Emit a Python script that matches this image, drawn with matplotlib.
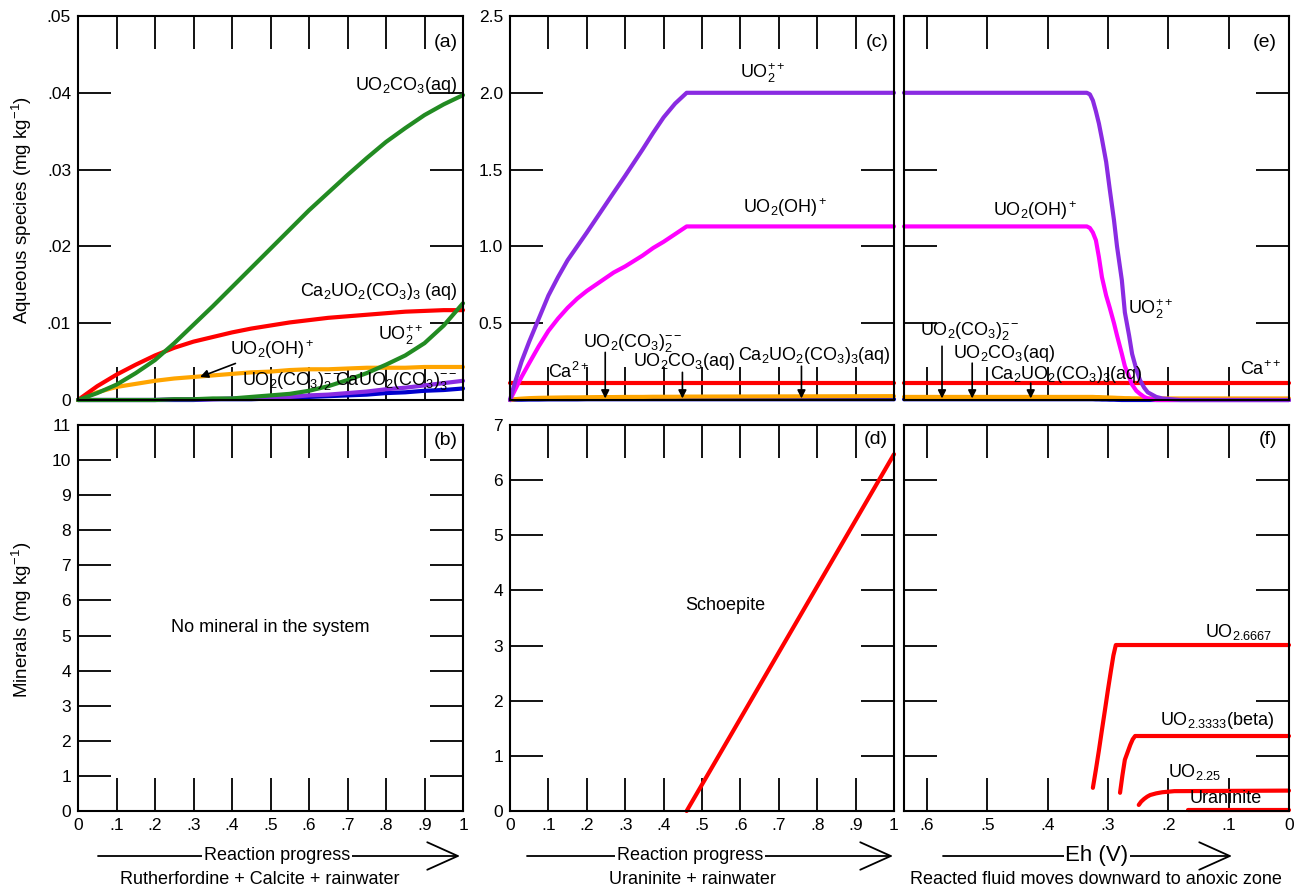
import numpy as np
import matplotlib
matplotlib.use("Agg")
import matplotlib.pyplot as plt

plt.rcParams['font.family'] = ['Liberation Sans', 'DejaVu Sans']
plt.rcParams['mathtext.fontset'] = 'custom'
plt.rcParams['mathtext.rm'] = 'Liberation Sans'
plt.rcParams['mathtext.it'] = 'Liberation Sans:italic'
plt.rcParams['mathtext.bf'] = 'Liberation Sans:bold'

W, H = 1301, 891

# colores
GREEN = '#228b22'
RED = '#ff0000'
ORANGE = '#ffa500'
PURPLE = '#8a2be2'
MAGENTA = '#ff00ff'
BLUE = '#0000cd'

# ---- (a) Rutherfordine + Calcite + rainwater ----
a_x = [0, .05, .1, .15, .2, .25, .3, .35, .4, .45, .5, .55, .6, .65, .7, .75, .8, .85, .9, .95, 1.0]
a_uo2co3 = [0, .0009, .0020, .0035, .0052, .0074, .0098, .0122, .0147, .0172, .0197,
            .0222, .0247, .0270, .0293, .0315, .0336, .0354, .0371, .0385, .0397]
a_ca2uo2co3 = [0, .0018, .0033, .0046, .0058, .0068, .0076, .0082, .0088, .0093, .0097,
               .0101, .0104, .0107, .0109, .0111, .0113, .0115, .0116, .0117, .0117]
a_uo2pp = [0, 0, 0, 0, 0, .0001, .0001, .0002, .0002, .0004, .0006,
           .0008, .0012, .0018, .0026, .0035, .0046, .0058, .0074, .0097, .0126]
a_uo2oh = [0, .0010, .0017, .0021, .0025, .0028, .0030, .0032, .0034, .0036, .0037,
           .0039, .0040, .0040, .0041, .0042, .0042, .0042, .0043, .0043, .0043]
a_uo2co32 = [0, 0, 0, 0, 0, .0001, .0001, .0001, .0002, .0002, .0003,
             .0004, .0006, .0007, .0009, .0011, .0014, .0016, .0019, .0022, .0025]
a_cauo2co33 = [0, 0, 0, 0, 0, 0, 0, .0001, .0001, .0001, .0002,
               .0003, .0004, .0005, .0006, .0007, .0009, .0010, .0012, .0013, .0015]

# ---- (c) Uraninite + rainwater ----
c_x = [0, .01, .02, .03, .05, .075, .1, .125, .15, .175, .2, .235, .27, .3, .345, .373, .4, .43, .46, 1.0]
c_uo2pp = [0, .09, .17, .25, .38, .53, .68, .80, .91, 1.0, 1.09, 1.22, 1.35, 1.46, 1.63, 1.74, 1.84, 1.93, 2.0, 2.0]
c_uo2oh = [0, .05, .10, .15, .24, .35, .45, .53, .60, .66, .71, .77, .83, .87, .94, .99, 1.03, 1.08, 1.13, 1.13]
c_ca = [.11] * 20
c_orange = [0, .004, .007, .009, .012, .014, .015, .016, .017, .017, .018, .019, .019, .02, .02,
            .021, .021, .021, .022, .025]
c_blue = [0, .001, .002, .002, .003, .003, .004, .004, .004, .004, .005, .005, .005, .005, .005,
          .005, .005, .005, .005, .005]

# ---- (e) Eh ----
e_x = [.638, .335, .33, .325, .32, .315, .31, .303, .297, .29, .285, .277, .272, .265,
       .26, .253, .247, .24, .234, .22, .21, .18, 0]
e_uo2pp = [2.0, 2.0, 1.99, 1.95, 1.88, 1.80, 1.70, 1.55, 1.37, 1.17, 1.0, .78, .57, .42,
           .30, .20, .13, .08, .05, .02, .01, 0, 0]
e_uo2oh = [1.13, 1.13, 1.12, 1.09, 1.04, .93, .80, .68, .60, .50, .42, .30, .22, .15,
           .10, .06, .04, .02, .01, 0, 0, 0, 0]
e_ca = [.11] * 23
e_orange = [.02, .02, .02, .02, .019, .019, .018, .017, .016, .015, .014, .013, .012, .012,
            .011, .011, .01, .01, .01, .01, .01, .01, .01]
e_blue = [.005, .005, .005, .005, .004, .004, .003, .003, .002, .002, .001, 0, 0, 0,
          0, 0, 0, 0, 0, 0, 0, 0, 0]

# ---- (d) Schoepite ----
d_x = [.46, 1.0]
d_schoepite = [0, 6.47]

# ---- (f) minerales vs Eh ----
f_uo26667_x = [.325, .32, .315, .31, .305, .3, .295, .291, .287, 0]
f_uo26667 = [.42, .75, 1.1, 1.47, 1.83, 2.2, 2.55, 2.82, 3.01, 3.01]
f_uo23333_x = [.28, .276, .272, .267, .263, .259, .255, 0]
f_uo23333 = [.33, .65, .93, 1.08, 1.2, 1.3, 1.36, 1.36]
f_uo225_x = [.249, .245, .24, .235, .23, .22, .21, .19, 0]
f_uo225 = [.11, .17, .22, .26, .29, .32, .34, .36, .37]
f_uraninite_x = [.167, 0]
f_uraninite = [0.01, 0.01]

prog_ticks = [0, .1, .2, .3, .4, .5, .6, .7, .8, .9, 1]
prog_labels = ['0', '.1', '.2', '.3', '.4', '.5', '.6', '.7', '.8', '.9', '1']
eh_ticks = [.6, .5, .4, .3, .2, .1, 0]
eh_labels = ['.6', '.5', '.4', '.3', '.2', '.1', '0']

fig = plt.figure(figsize=(W / 100, H / 100), dpi=100)


def px_axes(x0, x1, y0, y1):
    return fig.add_axes([x0 / W, 1 - y1 / H, (x1 - x0) / W, (y1 - y0) / H])


ax_a = px_axes(78, 463, 16, 400)
ax_c = px_axes(510, 894, 16, 400)
ax_e = px_axes(904, 1289, 16, 400)
ax_b = px_axes(78, 463, 425, 811)
ax_d = px_axes(510, 894, 425, 811)
ax_f = px_axes(904, 1289, 425, 811)

for ax in [ax_a, ax_c, ax_e, ax_b, ax_d, ax_f]:
    ax.tick_params(direction='in', length=24, width=1.3, top=True, right=True,
                   labelsize=12.5, pad=5, colors='black')
    for s in ax.spines.values():
        s.set_linewidth(1.5)

LW = 3.0
kw = dict(lw=LW, solid_capstyle='round', solid_joinstyle='round', clip_on=False)
fs = 13
pfs = 14

# (a)
ax_a.plot(a_x, a_cauo2co33, color=BLUE, **kw)
ax_a.plot(a_x, a_uo2co32, color=PURPLE, **kw)
ax_a.plot(a_x, a_uo2oh, color=ORANGE, **kw)
ax_a.plot(a_x, a_ca2uo2co3, color=RED, **kw)
ax_a.plot(a_x, a_uo2pp, color=GREEN, **kw)
ax_a.plot(a_x, a_uo2co3, color=GREEN, **kw)
ax_a.set_xlim(0, 1)
ax_a.set_ylim(0, 0.05)
ax_a.set_xticks(prog_ticks)
ax_a.tick_params(labelbottom=False)
ax_a.set_yticks([0, .01, .02, .03, .04, .05])
ax_a.set_yticklabels(['0', '.01', '.02', '.03', '.04', '.05'])
ax_a.text(0.987, 0.0466, '(a)', ha='right', va='center', fontsize=pfs)
ax_a.text(0.985, 0.0410, r'UO$_2$CO$_3$(aq)', ha='right', va='center', fontsize=fs)
ax_a.text(0.985, 0.0141, r'Ca$_2$UO$_2$(CO$_3$)$_3$ (aq)', ha='right', va='center', fontsize=fs)
ax_a.text(0.78, 0.0085, r'UO$_2^{++}$', ha='left', va='center', fontsize=fs)
ax_a.annotate(r'UO$_2$(OH)$^+$', xy=(0.317, 0.0030), xytext=(0.395, 0.0066),
              ha='left', va='center', fontsize=fs,
              arrowprops=dict(arrowstyle='-|>', color='black', lw=1.2,
                              shrinkA=0, shrinkB=0, mutation_scale=12))
ax_a.text(0.426, 0.0025, r'UO$_2$(CO$_3$)$_2^{--}$', ha='left', va='center', fontsize=fs)
ax_a.text(0.667, 0.0025, r'CaUO$_2$(CO$_3$)$_3^{--}$', ha='left', va='center', fontsize=fs)

# (c)
ax_c.plot(c_x, c_blue, color=BLUE, **kw)
ax_c.plot(c_x, c_ca, color=RED, **kw)
ax_c.plot(c_x, c_orange, color=ORANGE, **kw)
ax_c.plot(c_x, c_uo2oh, color=MAGENTA, **kw)
ax_c.plot(c_x, c_uo2pp, color=PURPLE, **kw)
ax_c.set_xlim(0, 1)
ax_c.set_ylim(0, 2.5)
ax_c.set_xticks(prog_ticks)
ax_c.tick_params(labelbottom=False)
ax_c.set_yticks([0, .5, 1, 1.5, 2, 2.5])
ax_c.set_yticklabels(['', '0.5', '1.0', '1.5', '2.0', '2.5'])
ax_c.text(0.985, 2.33, '(c)', ha='right', va='center', fontsize=pfs)
ax_c.text(0.657, 2.13, r'UO$_2^{++}$', ha='center', va='center', fontsize=fs)
ax_c.text(0.717, 1.25, r'UO$_2$(OH)$^+$', ha='center', va='center', fontsize=fs)
ax_c.text(0.10, 0.18, r'Ca$^{2+}$', ha='left', va='center', fontsize=fs)

arr = dict(arrowstyle='-|>', color='black', lw=1.2, shrinkA=0, shrinkB=0, mutation_scale=12)


def down_label(ax, tx, ty, label, ax_x, y_from, y_to=0.01):
    ax.text(tx, ty, label, ha='left', va='center', fontsize=fs)
    ax.annotate('', xy=(ax_x, y_to), xytext=(ax_x, y_from), arrowprops=arr)


down_label(ax_c, 0.19, 0.37, r'UO$_2$(CO$_3$)$_2^{--}$', 0.248, 0.31)
down_label(ax_c, 0.32, 0.25, r'UO$_2$CO$_3$(aq)', 0.449, 0.18)
down_label(ax_c, 0.595, 0.29, r'Ca$_2$UO$_2$(CO$_3$)$_3$(aq)', 0.759, 0.22)

# (e)
ax_e.plot(e_x, e_blue, color=BLUE, **kw)
ax_e.plot(e_x, e_ca, color=RED, **kw)
ax_e.plot(e_x, e_orange, color=ORANGE, **kw)
ax_e.plot(e_x, e_uo2oh, color=MAGENTA, **kw)
ax_e.plot(e_x, e_uo2pp, color=PURPLE, **kw)
ax_e.set_xlim(0.638, 0)
ax_e.set_ylim(0, 2.5)
ax_e.set_xticks(eh_ticks)
ax_e.set_yticks([.5, 1, 1.5, 2])
ax_e.tick_params(labelbottom=False, labelleft=False)
ax_e.text(0.02, 2.33, '(e)', ha='right', va='center', fontsize=pfs)
ax_e.text(0.42, 1.23, r'UO$_2$(OH)$^+$', ha='center', va='center', fontsize=fs)
ax_e.text(0.267, 0.59, r'UO$_2^{++}$', ha='left', va='center', fontsize=fs)
ax_e.text(0.081, 0.20, r'Ca$^{++}$', ha='left', va='center', fontsize=fs)
down_label(ax_e, 0.612, 0.45, r'UO$_2$(CO$_3$)$_2^{--}$', 0.575, 0.35)
down_label(ax_e, 0.557, 0.305, r'UO$_2$CO$_3$(aq)', 0.525, 0.24)
down_label(ax_e, 0.496, 0.165, r'Ca$_2$UO$_2$(CO$_3$)$_3$(aq)', 0.428, 0.11)

# (b)
ax_b.set_xlim(0, 1)
ax_b.set_ylim(0, 11)
ax_b.set_xticks(prog_ticks)
ax_b.set_xticklabels(prog_labels)
ax_b.set_yticks(range(0, 12))
ax_b.text(0.987, 10.57, '(b)', ha='right', va='center', fontsize=pfs)
ax_b.text(0.5, 5.24, 'No mineral in the system', ha='center', va='center', fontsize=fs)

# (d)
ax_d.plot(d_x, d_schoepite, color=RED, **kw)
ax_d.set_xlim(0, 1)
ax_d.set_ylim(0, 7)
ax_d.set_xticks(prog_ticks)
ax_d.set_xticklabels(prog_labels)
ax_d.set_yticks(range(0, 8))
ax_d.text(0.985, 6.73, '(d)', ha='right', va='center', fontsize=pfs)
ax_d.text(0.561, 3.72, 'Schoepite', ha='center', va='center', fontsize=fs)

# (f)
ax_f.plot(f_uo26667_x, f_uo26667, color=RED, **kw)
ax_f.plot(f_uo23333_x, f_uo23333, color=RED, **kw)
ax_f.plot(f_uo225_x, f_uo225, color=RED, **kw)
ax_f.plot(f_uraninite_x, f_uraninite, color=RED, **kw)
ax_f.set_xlim(0.638, 0)
ax_f.set_ylim(0, 7)
ax_f.set_xticks(eh_ticks)
ax_f.set_xticklabels(eh_labels)
ax_f.set_yticks(range(1, 7))
ax_f.tick_params(labelleft=False)
ax_f.text(0.02, 6.73, '(f)', ha='right', va='center', fontsize=pfs)
ax_f.text(0.139, 3.25, r'UO$_{2.6667}$', ha='left', va='center', fontsize=fs)
ax_f.text(0.214, 1.65, r'UO$_{2.3333}$(beta)', ha='left', va='center', fontsize=fs)
ax_f.text(0.20, 0.71, r'UO$_{2.25}$', ha='left', va='center', fontsize=fs)
ax_f.text(0.164, 0.22, 'Uraninite', ha='left', va='center', fontsize=fs)

# etiquetas de ejes y
fig.text(22 / W, 1 - 210 / H, r'Aqueous species (mg kg$^{-1}$)', rotation=90,
         ha='center', va='center', fontsize=13.5)
fig.text(22 / W, 1 - 620 / H, r'Minerals (mg kg$^{-1}$)', rotation=90,
         ha='center', va='center', fontsize=13.5)


def fp(x, y):
    return (x / W, 1 - y / H)


big_arrow = dict(arrowstyle='->,head_length=1.0,head_width=0.45', color='black',
                 lw=1.3, shrinkA=0, shrinkB=0, mutation_scale=22)

# flechas inferiores
for x0, x1, xc, xs, title, sub, tfs in [
        (98, 460, 277, 260, 'Reaction progress', 'Rutherfordine + Calcite + rainwater', 13),
        (527, 893, 690, 692, 'Reaction progress', 'Uraninite + rainwater', 13),
        (943, 1232, 1097, 1096, 'Eh (V)', 'Reacted fluid moves downward to anoxic zone', 16)]:
    fig.patches.append(matplotlib.patches.FancyArrowPatch(
        fp(x0, 856), fp(x1, 856), transform=fig.transFigure, **big_arrow))
    fig.text(*fp(xc, 856), title, ha='center', va='center', fontsize=tfs,
             bbox=dict(facecolor='white', edgecolor='none', pad=1))
    fig.text(*fp(xs, 879), sub, ha='center', va='center', fontsize=13)

fig.savefig('out.png', dpi=100)
